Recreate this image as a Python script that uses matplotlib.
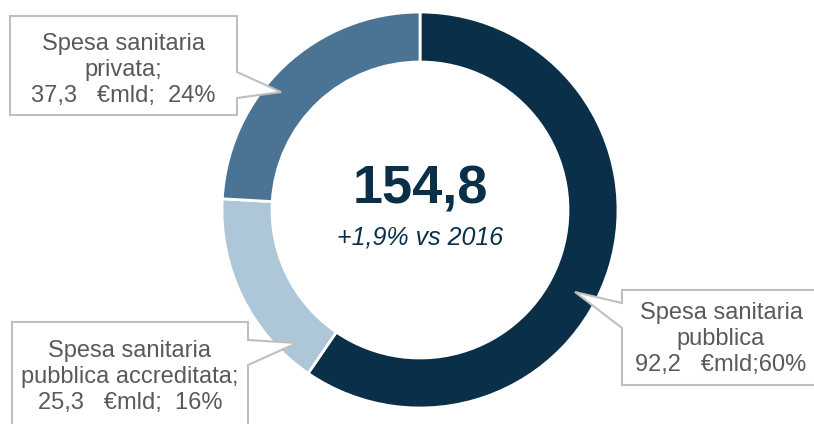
import matplotlib.pyplot as plt
from matplotlib.patches import Polygon

labels = [
    "Spesa sanitaria\npubblica\n92,2   €mld;60%",
    "Spesa sanitaria\npubblica accreditata;\n25,3   €mld;  16%",
    "Spesa sanitaria\nprivata;\n37,3   €mld;  24%",
]
values = [92.2, 25.3, 37.3]
colors = ["#0a3049", "#adc6d8", "#4a7394"]
total_label = "154,8"
growth_label = "+1,9% vs 2016"

W, H = 814, 424
TEXT = "#595959"


def py(y):
    # pixel row (from top) to data y
    return H - y


def callout(ax, box, base, tip, side):
    x0, y0, x1, y1 = box
    b0, b1 = base
    if side == "right":
        pts = [(x0, y0), (x1, y0), (x1, b0), tip, (x1, b1), (x1, y1), (x0, y1)]
    else:
        pts = [(x0, y0), (x1, y0), (x1, y1), (x0, y1), (x0, b1), tip, (x0, b0)]
    pts = [(x, py(y)) for x, y in pts]
    ax.add_patch(Polygon(pts, closed=True, facecolor="white", edgecolor="#bfbfbf",
                         linewidth=1.5, zorder=3))


fig = plt.figure(figsize=(W / 100, H / 100), dpi=100)
ax = fig.add_axes([0, 0, 1, 1])

ax.pie(values, colors=colors, startangle=90, counterclock=False,
       center=(420, py(210)), radius=198,
       wedgeprops=dict(width=50, edgecolor="white", linewidth=2))
ax.set_xlim(0, W)
ax.set_ylim(0, H)
ax.set_aspect("equal")
ax.axis("off")

ax.text(420, py(189), total_label, ha="center", va="center", fontsize=39,
        fontweight="bold", color="#0a3049", family="Liberation Sans")
ax.text(420, py(238), growth_label, ha="center", va="center", fontsize=18,
        style="italic", color="#0a3049", family="Liberation Sans")

# callouts
callout(ax, (10, 16, 237, 115), (72, 98), (281, 92), "right")
callout(ax, (12, 322, 248, 440), (340, 365), (297, 343), "right")
callout(ax, (622, 290, 830, 385), (303, 328), (575, 292), "left")

text_kw = dict(ha="center", va="center", fontsize=17, color=TEXT,
               family="Liberation Sans", linespacing=1.25, zorder=4)
ax.text(721, py(339), labels[0], **text_kw)
ax.text(130, py(377), labels[1], **text_kw)
ax.text(123, py(70), labels[2], **text_kw)

fig.savefig("out.png", dpi=100)
